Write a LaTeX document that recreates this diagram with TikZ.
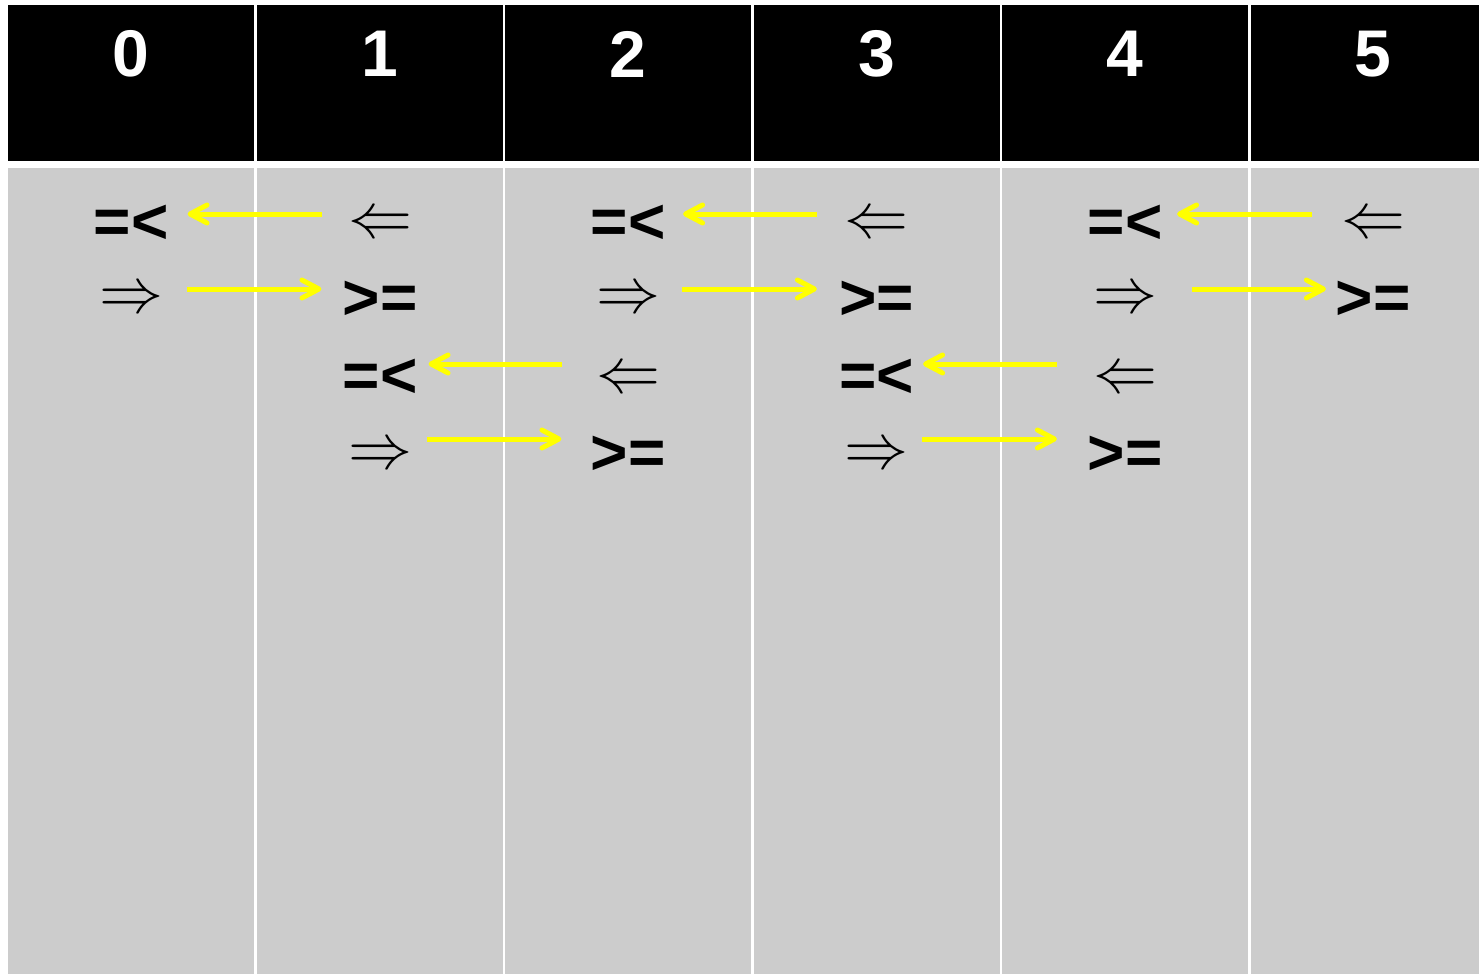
\documentclass[tikz,border=0pt]{standalone}
\usepackage{fontspec}
\setmainfont{Liberation Sans}
\usetikzlibrary{arrows.meta}
\definecolor{cellgray}{RGB}{204,204,204}
\definecolor{markyellow}{RGB}{255,255,0}
\newcommand{\bigleft}{\scalebox{6.4}{$\Leftarrow$}}
\newcommand{\bigright}{\scalebox{6.4}{$\Rightarrow$}}

\begin{document}
\begin{tikzpicture}[x=1pt,y=-1pt,
  colnum/.style={text=white,font=\fontsize{66}{66}\selectfont\bfseries},
  cmpop/.style={inner sep=0pt,font=\fontsize{64}{64}\selectfont\bfseries},
  dblarrow/.style={inner sep=0pt},
  swaparrow/.style={draw=markyellow,line width=5pt,
    -{Straight Barb[length=17pt,width=18pt,line cap=round,line join=round]}}]
% background
\useasboundingbox (0,0) rectangle (1479,974);
\fill[white] (0,0) rectangle (1479,974);
\fill[black] (8,5) rectangle (1479,161);
\fill[cellgray] (8,168) rectangle (1479,974);
\draw[white,line width=2.5pt] (255.5,0) -- (255.5,974);
\draw[white,line width=2.5pt] (504,0) -- (504,974);
\draw[white,line width=2.5pt] (752.5,0) -- (752.5,974);
\draw[white,line width=2.5pt] (1001,0) -- (1001,974);
\draw[white,line width=2.5pt] (1249.5,0) -- (1249.5,974);
% column numbers
\node[colnum] (n0) at (131,54) {0};
\node[colnum] (n1) at (380,54) {1};
\node[colnum] (n2) at (628,54) {2};
\node[colnum] (n3) at (876.5,54) {3};
\node[colnum] (n4) at (1125,54) {4};
\node[colnum] (n5) at (1373,54) {5};
% columns 0 and 1
\node[cmpop] (le01) at (131,224) {=<};
\node[dblarrow] (la01) at (380,226) {\bigleft};
\node[dblarrow] (ra01) at (131,301) {\bigright};
\node[cmpop] (ge01) at (380,300) {>=};
\draw[swaparrow] ([xshift=-26pt,yshift=12pt]la01.west) -- ([xshift=19pt,yshift=12pt]la01.west -| le01.east);
\draw[swaparrow] ([xshift=24pt,yshift=12pt]ra01.east) -- ([xshift=-21pt,yshift=12pt]ra01.east -| ge01.west);
% columns 1 and 2
\node[cmpop] (le12) at (380,378) {=<};
\node[dblarrow] (la12) at (628,381) {\bigleft};
\node[dblarrow] (ra12) at (380,457) {\bigright};
\node[cmpop] (ge12) at (628,455) {>=};
\draw[swaparrow] ([xshift=-34pt,yshift=17pt]la12.west) -- ([xshift=11pt,yshift=17pt]la12.west -| le12.east);
\draw[swaparrow] ([xshift=15pt,yshift=18pt]ra12.east) -- ([xshift=-29pt,yshift=18pt]ra12.east -| ge12.west);
% columns 2 and 3
\node[cmpop] (le23) at (628,224) {=<};
\node[dblarrow] (la23) at (876.5,226) {\bigleft};
\node[dblarrow] (ra23) at (628,301) {\bigright};
\node[cmpop] (ge23) at (876.5,300) {>=};
\draw[swaparrow] ([xshift=-27.5pt,yshift=12pt]la23.west) -- ([xshift=17.5pt,yshift=12pt]la23.west -| le23.east);
\draw[swaparrow] ([xshift=22pt,yshift=12pt]ra23.east) -- ([xshift=-22pt,yshift=12pt]ra23.east -| ge23.west);
% columns 3 and 4
\node[cmpop] (le34) at (876.5,378) {=<};
\node[dblarrow] (la34) at (1125,381) {\bigleft};
\node[dblarrow] (ra34) at (876.5,457) {\bigright};
\node[cmpop] (ge34) at (1125,455) {>=};
\draw[swaparrow] ([xshift=-36pt,yshift=17pt]la34.west) -- ([xshift=9pt,yshift=17pt]la34.west -| le34.east);
\draw[swaparrow] ([xshift=13.5pt,yshift=18pt]ra34.east) -- ([xshift=-30.5pt,yshift=18pt]ra34.east -| ge34.west);
% columns 4 and 5
\node[cmpop] (le45) at (1125,224) {=<};
\node[dblarrow] (la45) at (1373,226) {\bigleft};
\node[dblarrow] (ra45) at (1125,301) {\bigright};
\node[cmpop] (ge45) at (1373,300) {>=};
\draw[swaparrow] ([xshift=-29pt,yshift=12pt]la45.west) -- ([xshift=14.5pt,yshift=12pt]la45.west -| le45.east);
\draw[swaparrow] ([xshift=35pt,yshift=12pt]ra45.east) -- ([xshift=-9.5pt,yshift=12pt]ra45.east -| ge45.west);
\end{tikzpicture}
\end{document}
